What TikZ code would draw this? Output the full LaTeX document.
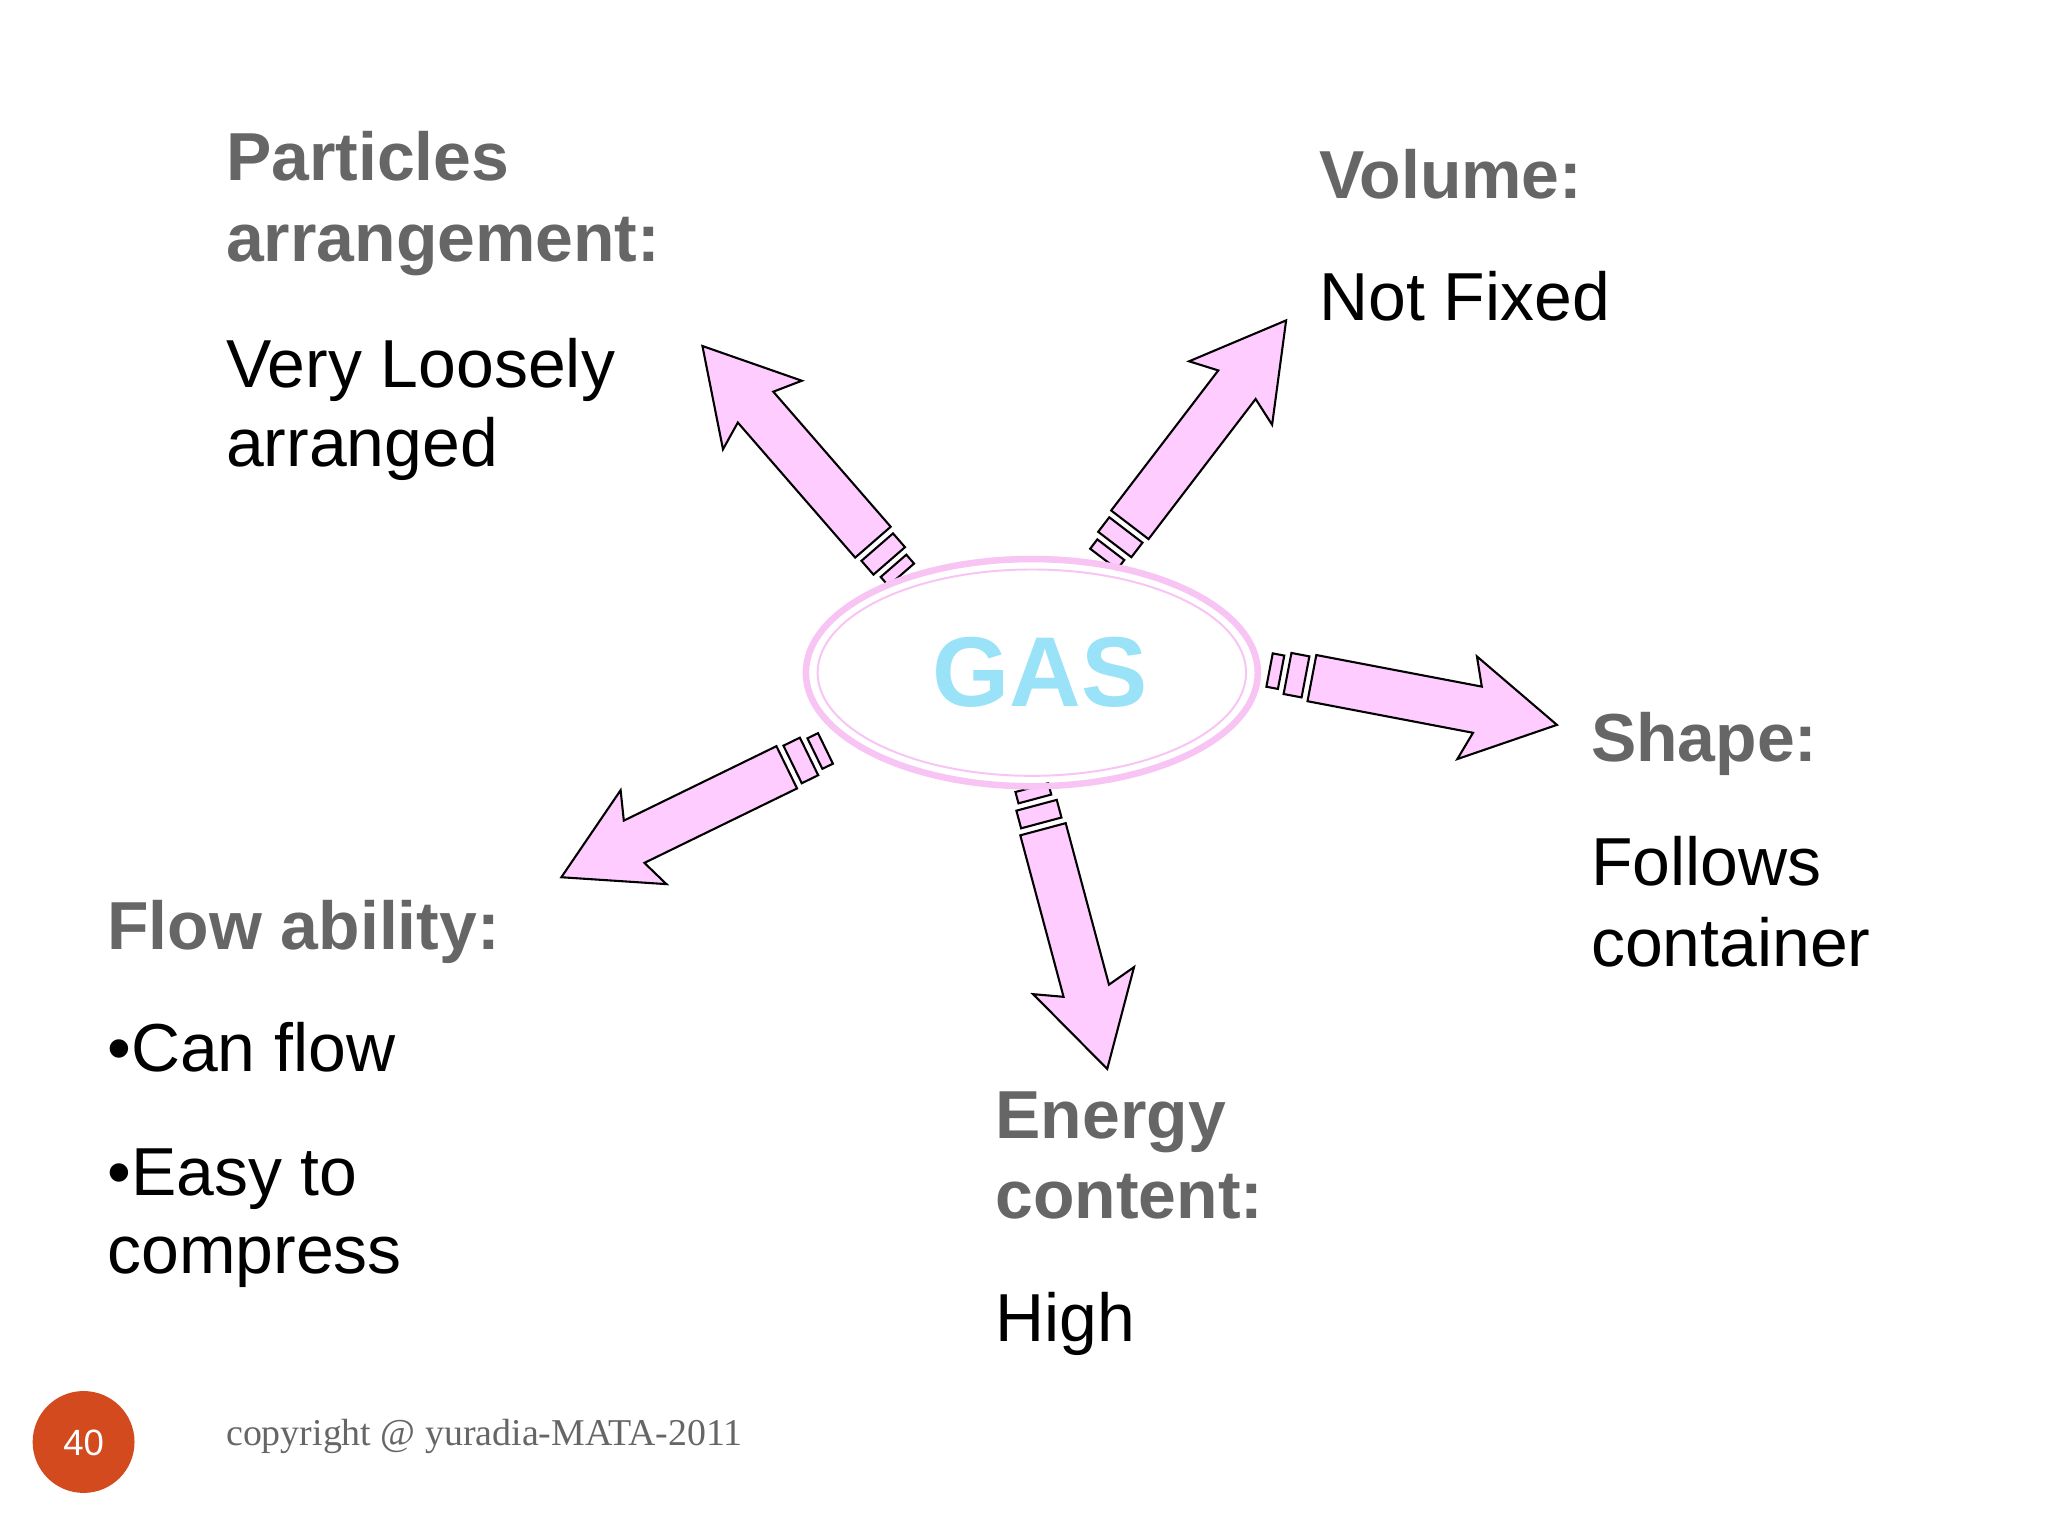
\documentclass[tikz,border=0pt]{standalone}
\usepackage{fontspec}
\setmainfont{Liberation Sans}
\newfontfamily\seriff{Liberation Serif}
\definecolor{pinkf}{HTML}{FFCCFF}
\definecolor{ringp}{HTML}{F8C4F4}
\definecolor{headg}{HTML}{666666}
\definecolor{gasb}{HTML}{99E2F8}
\definecolor{badge}{HTML}{D24A1E}
\tikzset{
  hd/.style={anchor=base west,font=\fontsize{52}{60}\selectfont\bfseries,text=headg,inner sep=0},
  bd/.style={anchor=base west,font=\fontsize{52}{60}\selectfont,text=black,inner sep=0},
  arr/.style={fill=pinkf,draw=black,line width=1.6pt,line join=miter}
}
\newcommand{\gasarrow}[4]{% x y angle length
\begin{scope}[shift={(#1,#2)},rotate=#3]
 \draw[arr] (0,-13) rectangle (9,13);
 \draw[arr] (14,-16) rectangle (28,16);
 \draw[arr] (33,-18) -- (#4-62,-18) -- (#4-70,-40) -- (#4,0) -- (#4-70,40) -- (#4-62,18) -- (33,18) -- cycle;
\end{scope}}
\begin{document}
\begin{tikzpicture}[x=1pt,y=-1pt]
\useasboundingbox[fill=white] (0,0) rectangle (1568,1176);
\gasarrow{690}{440}{131}{232}
\gasarrow{845}{428}{52.6}{230}
\gasarrow{972}{513}{-10.8}{224}
\gasarrow{790}{603}{-75}{223}
\gasarrow{632}{573}{-154}{225}
\draw[ringp,line width=5pt] (790,515) ellipse [x radius=173,y radius=87];
\draw[ringp,line width=1.5pt] (790,515) ellipse [x radius=164,y radius=79];
\node[font=\fontsize{76}{80}\selectfont\bfseries,text=gasb] (gas) at (796,515) {GAS};
\node[hd] (p1) at (173,138) {Particles};
\node[hd] (p2) at (173,200) {arrangement:};
\node[bd] (p3) at (173,297) {Very Loosely};
\node[bd] (p4) at (173,357) {arranged};
\node[hd] (v1) at (1010,152) {Volume:};
\node[bd] (v2) at (1010,245) {Not Fixed};
\node[hd] (s1) at (1218,583) {Shape:};
\node[bd] (s2) at (1218,678) {Follows};
\node[bd] (s3) at (1218,740) {container};
\node[hd] (f1) at (82,727) {Flow ability:};
\node[bd] (f2) at (82,820) {•Can flow};
\node[bd] (f3) at (82,915) {•Easy to};
\node[bd] (f4) at (82,975) {compress};
\node[hd] (e1) at (762,872) {Energy};
\node[hd] (e2) at (762,933) {content:};
\node[bd] (e3) at (762,1027) {High};
\fill[badge] (64,1104) circle (39);
\node[font=\fontsize{28}{30}\selectfont,text=white] (num) at (64,1105) {40};
\node[anchor=base west,inner sep=0,font=\seriff\fontsize{29}{32}\selectfont,text=headg] (copy) at (173,1107) {copyright @ yuradia-MATA-2011};
\end{tikzpicture}
\end{document}
